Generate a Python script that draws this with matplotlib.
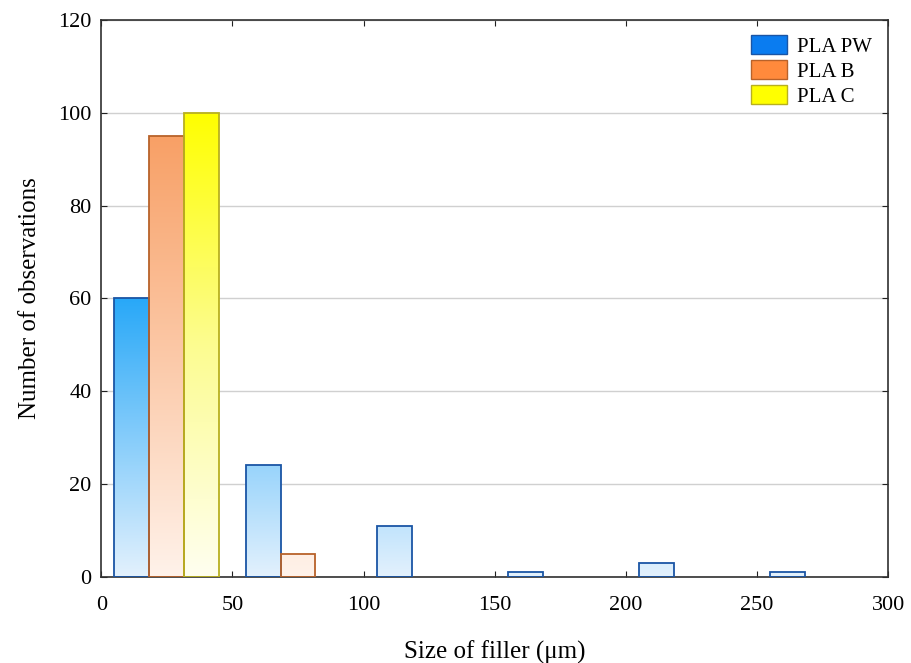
import matplotlib
matplotlib.use('Agg')
import matplotlib.pyplot as plt
import numpy as np
from matplotlib.colors import LinearSegmentedColormap
from matplotlib.patches import Patch

bin_starts = [0, 50, 100, 150, 200, 250]
series = ['PLA PW', 'PLA B', 'PLA C']
pla_pw = [60, 24, 11, 1, 3, 1]
pla_b = [95, 5, 0, 0, 0, 0]
pla_c = [100, 0, 0, 0, 0, 0]

# (gradient colours bottom->top, top value, edge colour, legend colour)
styles = [
    (['#e3f1fd', '#28a8f8'], 60, '#1a55a5', '#0a7cf0'),
    (['#fff2ea', '#f8a066'], 95, '#b8622a', '#ff8a3c'),
    (['#fffff0', '#fcfc90', '#ffff00'], 100, '#b8b020', '#ffff00'),
]

plt.rcParams['font.family'] = ['Liberation Serif', 'DejaVu Serif']

fig = plt.figure(figsize=(9.12, 6.63), dpi=100)
ax = fig.add_axes([0.111, 0.13, 0.863, 0.84])

width = 40 / 3
offset = 5
for i, vals in enumerate([pla_pw, pla_b, pla_c]):
    cols, vtop, edge, _ = styles[i]
    cmap = LinearSegmentedColormap.from_list('g%d' % i, cols)
    grad = np.linspace(0, 1, 256).reshape(-1, 1)
    for x0, v in zip(bin_starts, vals):
        if v <= 0:
            continue
        left = x0 + offset + i * width
        bar = ax.bar(left, v, width=width, align='edge', facecolor='none',
                     edgecolor=edge, linewidth=1.3, zorder=3)[0]
        im = ax.imshow(grad, cmap=cmap, origin='lower', aspect='auto',
                       extent=[left, left + width, 0, vtop], zorder=2,
                       interpolation='bilinear', vmin=0, vmax=1)
        im.set_clip_path(bar)

ax.set_xlim(0, 300)
ax.set_ylim(0, 120)
ax.set_xticks([0, 50, 100, 150, 200, 250, 300])
ax.set_yticks([0, 20, 40, 60, 80, 100, 120])
ax.yaxis.grid(True, color='#d0d0d0', linewidth=1)
ax.set_axisbelow(True)
ax.tick_params(direction='in', length=4, top=True, right=True,
               labelsize=16, color='#202020')
ax.tick_params(axis='x', pad=14)
ax.tick_params(axis='y', pad=7)
for s in ax.spines.values():
    s.set_linewidth(1.2)
    s.set_color('#303030')

ax.set_xlabel('Size of filler (μm)', fontsize=18, labelpad=18)
ax.set_ylabel('Number of observations', fontsize=18, labelpad=12)

handles = [Patch(facecolor=st[3], edgecolor=st[2], label=name)
           for st, name in zip(styles, series)]
ax.legend(handles=handles, loc='upper right', frameon=False, fontsize=15,
          handlelength=1.75, handleheight=1.05, handletextpad=0.45,
          labelspacing=0.15, borderaxespad=0.2, bbox_to_anchor=(0.995, 0.995))

fig.savefig('out.png', dpi=100, facecolor='white')
